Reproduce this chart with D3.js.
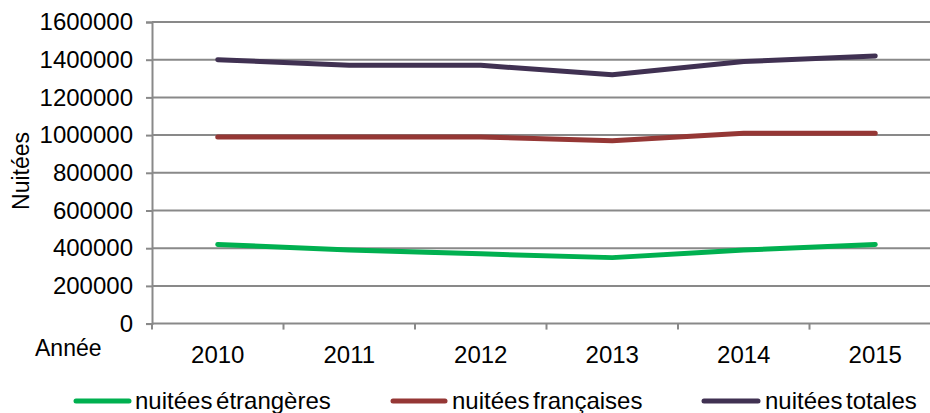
<!DOCTYPE html>
<html>
<head>
<meta charset="utf-8">
<script src="https://cdn.jsdelivr.net/npm/d3@7"></script>
<style>
  html, body { margin: 0; padding: 0; background: #fff; }
  svg { display: block; font-family: "Liberation Sans", Arial, sans-serif; }
</style>
</head>
<body>
<svg id="chart" width="930" height="413"></svg>
<script>
const years = ["2010", "2011", "2012", "2013", "2014", "2015"];
const etrangeres = [420000, 390000, 370000, 350000, 390000, 420000];
const francaises = [990000, 990000, 990000, 970000, 1010000, 1010000];
const totales = [1400000, 1370000, 1370000, 1320000, 1390000, 1420000];
const yTicks = [0, 200000, 400000, 600000, 800000, 1000000, 1200000, 1400000, 1600000];
const seriesNames = ["nuitées étrangères", "nuitées françaises", "nuitées totales"];
const seriesColors = ["#00B050", "#953735", "#403152"];
const yTitle = "Nuitées";
const xTitle = "Année";

const series = [etrangeres, francaises, totales];

const svg = d3.select("#chart");
const plotLeft = 152, plotRight = 941, plotTop = 22, plotBottom = 323.6;
const gridColor = "#898989";
const fontSize = 24;

const x = d3.scaleBand().domain(years).range([plotLeft, plotRight]).padding(0);
const y = d3.scaleLinear().domain([0, 1600000]).range([plotBottom, plotTop]);

// gridlines
svg.append("g").selectAll("line").data(yTicks.filter(d => d > 0)).join("line")
  .attr("x1", plotLeft).attr("x2", 930)
  .attr("y1", d => y(d)).attr("y2", d => y(d))
  .attr("stroke", gridColor).attr("stroke-width", 2);

// y axis
const yAxis = svg.append("g").attr("transform", `translate(${plotLeft},0)`)
  .call(d3.axisLeft(y).tickValues(yTicks).tickFormat(d3.format("d")).tickSize(6).tickPadding(13));
yAxis.select(".domain").attr("stroke", gridColor).attr("stroke-width", 2);
yAxis.selectAll(".tick line").attr("stroke", gridColor).attr("stroke-width", 2);
yAxis.selectAll(".tick text").attr("font-size", fontSize).attr("fill", "#000")
  .attr("font-family", "Liberation Sans, Arial, sans-serif");

// x axis baseline
svg.append("line").attr("x1", plotLeft).attr("x2", 930).attr("y1", y(0)).attr("y2", y(0))
  .attr("stroke", gridColor).attr("stroke-width", 2);
// x ticks at band edges
const edges = years.map(d => x(d)).concat([x(years[years.length - 1]) + x.bandwidth()]);
svg.append("g").selectAll("line").data(edges).join("line")
  .attr("x1", d => d).attr("x2", d => d)
  .attr("y1", y(0)).attr("y2", y(0) + 6)
  .attr("stroke", gridColor).attr("stroke-width", 2);
// x labels
svg.append("g").selectAll("text").data(years).join("text")
  .attr("x", d => x(d) + x.bandwidth() / 2)
  .attr("y", 363)
  .attr("text-anchor", "middle")
  .attr("font-size", fontSize).attr("fill", "#000")
  .text(d => d);

// lines
const line = d3.line()
  .x((d, i) => x(years[i]) + x.bandwidth() / 2)
  .y(d => y(d));
svg.append("g").selectAll("path").data(series).join("path")
  .attr("d", d => line(d))
  .attr("fill", "none")
  .attr("stroke", (d, i) => seriesColors[i])
  .attr("stroke-width", 5)
  .attr("stroke-linecap", "round")
  .attr("stroke-linejoin", "round");

// axis titles
svg.append("text").attr("x", 35).attr("y", 356).attr("font-size", 23).attr("fill", "#000").text(xTitle);
svg.append("text")
  .attr("transform", "translate(29,171) rotate(-90)")
  .attr("text-anchor", "middle")
  .attr("font-size", 23).attr("fill", "#000").text(yTitle);

// legend
const legendItems = [
  { lx1: 76, lx2: 129, tx: 135 },
  { lx1: 393, lx2: 445, tx: 452 },
  { lx1: 704, lx2: 758, tx: 765 }
];
const lg = svg.append("g");
seriesNames.forEach((name, i) => {
  const it = legendItems[i];
  lg.append("line").attr("x1", it.lx1).attr("x2", it.lx2).attr("y1", 401).attr("y2", 401)
    .attr("stroke", seriesColors[i]).attr("stroke-width", 5).attr("stroke-linecap", "round");
  lg.append("text").attr("x", it.tx).attr("y", 409).attr("font-size", fontSize)
    .attr("fill", "#000").attr("word-spacing", -3).text(name);
});
</script>
</body>
</html>
